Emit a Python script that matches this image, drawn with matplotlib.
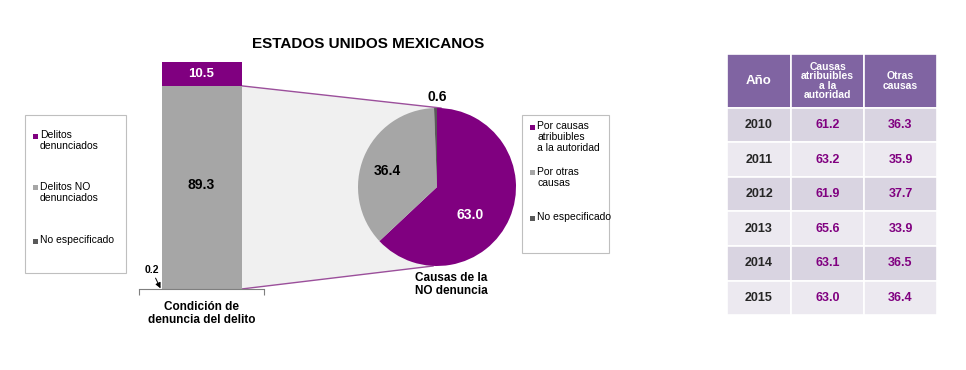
import matplotlib.pyplot as plt
from matplotlib.patches import Rectangle, Polygon
from matplotlib.lines import Line2D

plt.rcParams['font.family'] = ['Liberation Sans', 'DejaVu Sans']

W, H = 966, 370

# data
bar_labels = ["No especificado", "Delitos NO\ndenunciados", "Delitos\ndenunciados"]
bar_values = [0.2, 89.3, 10.5]
bar_colors = ["#595959", "#a6a6a6", "#800080"]

pie_labels = ["Por causas\natribuibles\na la autoridad", "Por otras\ncausas", "No especificado"]
pie_values = [63.0, 36.4, 0.6]
pie_colors = ["#800080", "#a6a6a6", "#595959"]

years = ["2010", "2011", "2012", "2013", "2014", "2015"]
autoridad = [61.2, 63.2, 61.9, 65.6, 63.1, 63.0]
otras = [36.3, 35.9, 37.7, 33.9, 36.5, 36.4]
col_labels = ["Año", "Causas\natribuibles\na la\nautoridad", "Otras\ncausas"]

purple = "#800080"


def box(x0, y0, x1, y1):
    # pixel box (top-left origin) -> figure fraction rect
    return [x0 / W, 1 - y1 / H, (x1 - x0) / W, (y1 - y0) / H]


def fx(x):
    return x / W


def fy(y):
    return 1 - y / H


fig = plt.figure(figsize=(W / 100, H / 100), dpi=100)

fig.text(fx(368), fy(44), "ESTADOS UNIDOS MEXICANOS", ha="center", va="center",
         fontsize=11, fontweight="bold")

# stacked bar
ax_bar = fig.add_axes(box(139, 62, 264, 289))
ax_bar.patch.set_visible(False)
bottom = 0
for v, c in zip(bar_values, bar_colors):
    ax_bar.bar(0, v, bottom=bottom, width=0.8, color=c, edgecolor="none")
    bottom += v
ax_bar.set_xlim(-0.625, 0.625)
ax_bar.set_ylim(0, 100)
for s in ["top", "right", "left"]:
    ax_bar.spines[s].set_visible(False)
ax_bar.spines["bottom"].set_color("#7f7f7f")
ax_bar.spines["bottom"].set_linewidth(0.8)
ax_bar.set_yticks([])
ax_bar.set_xticks([-0.625, 0.625])
ax_bar.set_xticklabels(["", ""])
ax_bar.tick_params(axis="x", direction="out", length=4, color="#7f7f7f", width=0.8)
ax_bar.text(0, bar_values[0] + bar_values[1] + bar_values[2] / 2, f"{bar_values[2]:.1f}",
            ha="center", va="center", color="white", fontsize=9.5, fontweight="bold")
ax_bar.text(0, bar_values[0] + bar_values[1] / 2 + 1, f"{bar_values[1]:.1f}",
            ha="center", va="center", color="black", fontsize=10, fontweight="bold")
ax_bar.annotate(f"{bar_values[0]:.1f}", xy=(-0.41, 0.3), xytext=(-0.5, 8.5),
                ha="center", va="center", fontsize=7.5, fontweight="bold",
                arrowprops=dict(arrowstyle="-|>", color="black", lw=0.7,
                                shrinkA=0.5, shrinkB=0, mutation_scale=8))
ax_bar.text(0, -5.5, "Condición de\ndenuncia del delito", ha="center", va="top",
            fontsize=8.5, fontweight="bold", linespacing=1.1)

# pie
ax_pie = fig.add_axes(box(358, 108, 516, 266))
ax_pie.patch.set_visible(False)
ax_pie.pie(pie_values, colors=pie_colors, startangle=90, counterclock=False,
           wedgeprops=dict(linewidth=0))
ax_pie.set_xlim(-1, 1)
ax_pie.set_ylim(-1, 1)
ax_pie.text(0, 1.14, f"{pie_values[2]:.1f}", ha="center", va="center",
            fontsize=10, fontweight="bold")
ax_pie.text(-0.63, 0.2, f"{pie_values[1]:.1f}", ha="center", va="center",
            fontsize=10, fontweight="bold")
ax_pie.text(0.42, -0.36, f"{pie_values[0]:.1f}", ha="center", va="center",
            fontsize=10, fontweight="bold", color="white")
ax_pie.text(0.18, -1.08, "Causas de la\nNO denuncia", ha="center", va="top",
            fontsize=8.5, fontweight="bold", linespacing=1.1)

# connector between bar and pie
inv = fig.transFigure.inverted()
top_bar = inv.transform(ax_bar.transData.transform((0.4, bar_values[0] + bar_values[1])))
bot_bar = inv.transform(ax_bar.transData.transform((0.4, 0)))
top_pie = inv.transform(ax_pie.transData.transform((0.05, 1.0)))
bot_pie = inv.transform(ax_pie.transData.transform((-0.05, -1.0)))
fig.patches.append(Polygon([top_bar, top_pie, bot_pie, bot_bar], closed=True,
                           facecolor="#f0f0f0", edgecolor="none",
                           transform=fig.transFigure, zorder=-2))
for a, b in [(top_bar, top_pie), (bot_bar, bot_pie)]:
    fig.lines.append(Line2D([a[0], b[0]], [a[1], b[1]], color="#9b4f9b", lw=1.0,
                            transform=fig.transFigure, zorder=-1))


def legend_box(x0, y0, x1, y1, entries, colors, ys):
    fig.patches.append(Rectangle((fx(x0), fy(y1)), fx(x1 - x0), (y1 - y0) / H,
                                 facecolor="white", edgecolor="#bfbfbf", lw=0.8,
                                 transform=fig.transFigure))
    for lab, c, y in zip(entries, colors, ys):
        fig.patches.append(Rectangle((fx(x0 + 8), fy(y + 2.5)), 5 / W, 5 / H,
                                     facecolor=c, edgecolor="none",
                                     transform=fig.transFigure))
        fig.text(fx(x0 + 15), fy(y - 6), lab, ha="left", va="top",
                 fontsize=7.5, linespacing=1.15)


legend_box(25, 115, 126, 273, bar_labels[::-1], bar_colors[::-1], [136, 188, 241])
legend_box(522, 115, 609, 253, pie_labels, pie_colors, [127, 173, 218])

# table
ax_tab = fig.add_axes(box(727, 54, 937, 315))
ax_tab.axis("off")
cell_text = [[y, f"{a:.1f}", f"{o:.1f}"] for y, a, o in zip(years, autoridad, otras)]
row_cols = [["#d9d4e1"] * 3 if i % 2 == 0 else ["#ece9f0"] * 3 for i in range(len(years))]
tab = ax_tab.table(cellText=cell_text, colLabels=col_labels, cellColours=row_cols,
                   colColours=["#8064a2"] * 3, cellLoc="center",
                   colWidths=[64, 73, 73], bbox=[0, 0, 1, 1])
tab.auto_set_font_size(False)
for (r, c), cell in tab.get_celld().items():
    cell.set_edgecolor("white")
    cell.set_linewidth(1.2)
    txt = cell.get_text()
    if r == 0:
        cell.set_height(cell.get_height() * 54 / 34.5)
        txt.set_color("white")
        txt.set_fontweight("bold")
        txt.set_fontsize(9.5 if c == 0 else 7.5)
        txt.set_linespacing(0.9)
    else:
        txt.set_fontweight("bold")
        txt.set_fontsize(9)
        txt.set_color("#262626" if c == 0 else purple)

fig.savefig("out.png", dpi=100)
